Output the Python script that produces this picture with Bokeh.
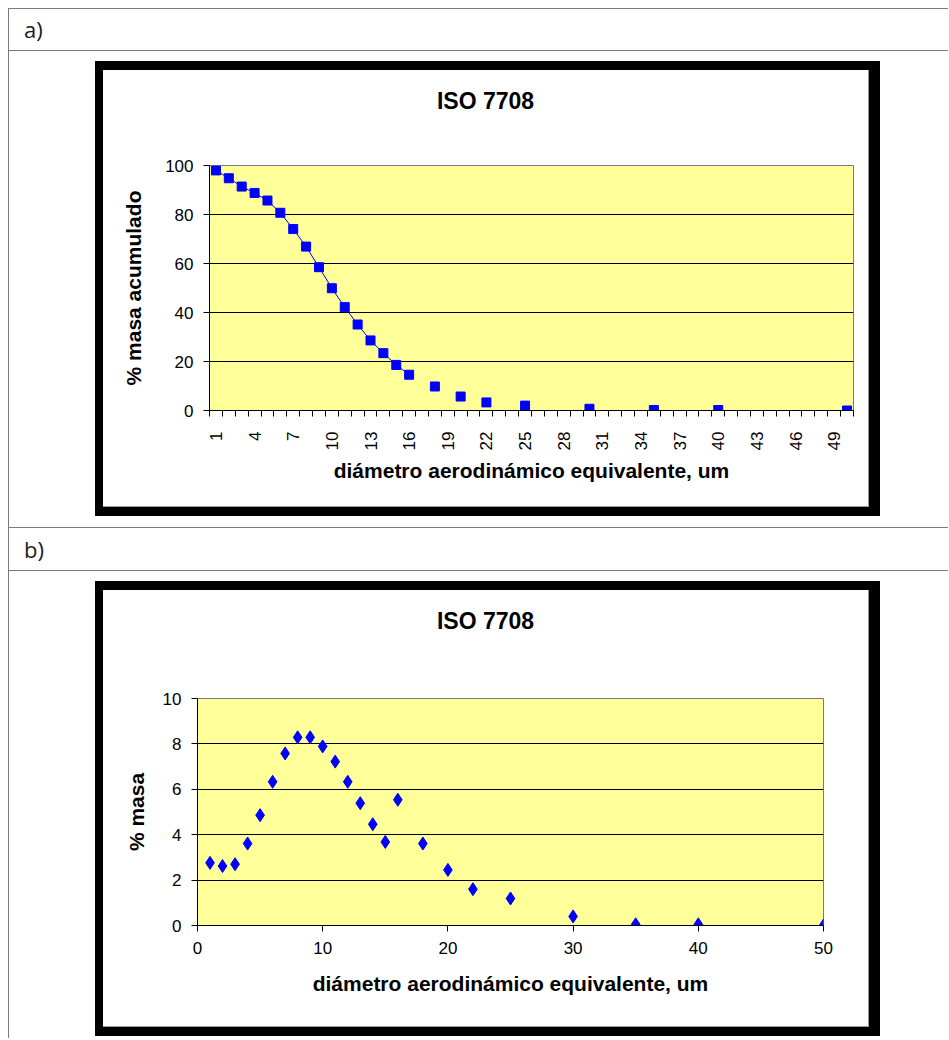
import math
from bokeh.plotting import figure
from bokeh.layouts import column, row
from bokeh.models import Div, Spacer, Range1d, FixedTicker
from bokeh.embed import file_html
from bokeh.resources import INLINE

# ------------------------------------------------------------------ data
diametro = [1, 2, 3, 4, 5, 6, 7, 8, 9, 10, 11, 12, 13, 14, 15, 16, 18, 20, 22, 25, 30, 35, 40, 50]
masa_acumulada = [98.0, 94.8, 91.4, 88.8, 85.7, 80.7, 74.1, 66.9, 58.5, 49.9, 42.2, 35.1,
                  28.6, 23.4, 18.6, 14.6, 9.8, 5.7, 3.3, 2.0, 0.7, 0.2, 0.2, 0.0]
masa = [2.76, 2.62, 2.70, 3.61, 4.86, 6.33, 7.58, 8.29, 8.29, 7.89, 7.22, 6.33,
        5.39, 4.46, 3.68, 5.54, 3.61, 2.45, 1.60, 1.19, 0.40, 0.05, 0.05, 0.0]
categorias_a = list(range(1, 51))
etiquetas_x_a = [1, 4, 7, 10, 13, 16, 19, 22, 25, 28, 31, 34, 37, 40, 43, 46, 49]
ticks_y_a = [0, 20, 40, 60, 80, 100]
grid_y_a = [20, 40, 60, 80]
ticks_x_b = [0, 10, 20, 30, 40, 50]
ticks_y_b = [0, 2, 4, 6, 8, 10]
grid_y_b = [2, 4, 6, 8]
titulo = "ISO 7708"
titulo_x = "diámetro aerodinámico equivalente, um"
titulo_y_a = "% masa acumulado"
titulo_y_b = "% masa"
rotulo_a = "a)"
rotulo_b = "b)"

# ------------------------------------------------------------------ style
GRAY = "#7a7a7a"
YELLOW = "#FFFF99"
BLUE = "#0000FF"
TICK_FONT = "Liberation Sans"
CW, CH = 765, 436   # full chart area inside the black frame
TH = 62             # height of the title strip
PH = CH - TH        # figure height


def style_axes(p):
    for ax in (p.xaxis[0], p.yaxis[0]):
        ax.axis_line_color = "black"
        ax.major_tick_line_color = "black"
        ax.minor_tick_line_color = "black"
        ax.major_tick_in = 0
        ax.minor_tick_in = 0
        ax.major_tick_out = 6
        ax.minor_tick_out = 0
        ax.major_label_text_font = TICK_FONT
        ax.major_label_text_font_size = "17px"
        ax.major_label_text_color = "black"
        ax.axis_label_text_font = "Liberation Sans"
        ax.axis_label_text_font_style = "bold"
        ax.axis_label_text_font_size = "21px"
        ax.axis_label_text_color = "black"
    p.xgrid.visible = False
    p.ygrid.grid_line_color = "black"
    p.ygrid.grid_line_width = 1


def title_div():
    return Div(text=(f'<div style="display:block;width:{CW}px;text-align:center;'
                     'font-family:\'Liberation Sans\';font-weight:bold;'
                     f'font-size:23px;line-height:{TH}px;color:black;">{titulo}</div>'),
               width=CW, height=TH, margin=0,
               styles={"background-color": "white", "text-align": "center"})


# ------------------------------------------------------------------ chart a
p_a = figure(width=CW, height=PH, x_range=Range1d(0.5, 50.5), y_range=Range1d(0, 100),
             output_backend="svg", toolbar_location=None,
             min_border_left=106, min_border_right=15, min_border_top=95 - TH, min_border_bottom=96,
             background_fill_color=YELLOW, border_fill_color="white", outline_line_color=GRAY)
style_axes(p_a)
p_a.yaxis.ticker = FixedTicker(ticks=ticks_y_a)
p_a.ygrid.ticker = FixedTicker(ticks=grid_y_a)
p_a.xaxis.ticker = FixedTicker(ticks=etiquetas_x_a,
                               minor_ticks=[c - 0.5 for c in categorias_a] + [categorias_a[-1] + 0.5])
p_a.xaxis.major_tick_out = 0
p_a.xaxis.minor_tick_out = 6
p_a.xaxis.major_label_orientation = math.pi / 2
p_a.xaxis.major_label_standoff = 15
p_a.xaxis.axis_label = titulo_x
p_a.xaxis.axis_label_standoff = 6
p_a.yaxis.major_label_standoff = 10
p_a.yaxis.axis_label = titulo_y_a
p_a.yaxis.axis_label_standoff = 17

lookup = dict(zip(diametro, masa_acumulada))
linea_y = [lookup.get(c, float("nan")) for c in categorias_a]
p_a.line(categorias_a, linea_y, line_color=BLUE, line_width=1)
p_a.scatter(diametro, masa_acumulada, marker="square", size=9, fill_color=BLUE, line_color=BLUE)

# ------------------------------------------------------------------ chart b
p_b = figure(width=CW, height=PH, x_range=Range1d(0, 50), y_range=Range1d(0, 10),
             output_backend="svg", toolbar_location=None,
             min_border_left=94, min_border_right=45, min_border_top=108 - TH, min_border_bottom=101,
             background_fill_color=YELLOW, border_fill_color="white", outline_line_color=GRAY)
style_axes(p_b)
p_b.xaxis.ticker = FixedTicker(ticks=ticks_x_b)
p_b.yaxis.ticker = FixedTicker(ticks=ticks_y_b)
p_b.ygrid.ticker = FixedTicker(ticks=grid_y_b)
p_b.xaxis.major_label_standoff = 10
p_b.xaxis.axis_label = titulo_x
p_b.xaxis.axis_label_standoff = 15
p_b.yaxis.major_label_standoff = 10
p_b.yaxis.axis_label = titulo_y_b
p_b.yaxis.axis_label_standoff = 12
p_b.scatter(diametro, masa, marker="diamond", size=13, fill_color=BLUE, line_color=BLUE)


# ------------------------------------------------------------------ page layout
def block(w, h, color):
    return Div(text="", width=w, height=h, margin=0, styles={"background-color": color})


def label_div(txt, h):
    return Div(text=f'<div style="padding-left:15px;font-family:\'Open Sans\';font-size:22px;'
                    f'line-height:{h}px;color:#1a1a1a;">{txt}</div>',
               width=939, height=h, margin=0)


def framed(p, bottom):
    chart = column(title_div(), p, spacing=0)
    return column(block(785, 9, "black"),
                  row(block(8, CH, "black"), chart, block(1, CH, "#9a9a9a"),
                      block(11, CH, "black"), spacing=0),
                  row(block(8, 1, "black"), block(766, 1, "#9a9a9a"), block(11, 1, "black"), spacing=0),
                  block(785, bottom - 1, "black"), spacing=0)


table = column(
    block(940, 1, GRAY),
    row(block(1, 41, GRAY), label_div(rotulo_a, 41), spacing=0),
    block(940, 1, GRAY),
    row(block(1, 476, GRAY), Spacer(width=86, height=476, margin=0),
        column(Spacer(height=10, width=10, margin=0), framed(p_a, 10),
               Spacer(height=11, width=10, margin=0), spacing=0), spacing=0),
    block(940, 1, GRAY),
    row(block(1, 42, GRAY), label_div(rotulo_b, 42), spacing=0),
    block(940, 1, GRAY),
    row(block(1, 467, GRAY), Spacer(width=86, height=467, margin=0),
        column(Spacer(height=10, width=10, margin=0), framed(p_b, 10), spacing=0), spacing=0),
    spacing=0,
)

root = column(Spacer(height=8, width=10, margin=0),
              row(Spacer(width=8, height=10, margin=0), table, spacing=0),
              spacing=0)

open("out.html", "w").write(file_html(root, INLINE))
